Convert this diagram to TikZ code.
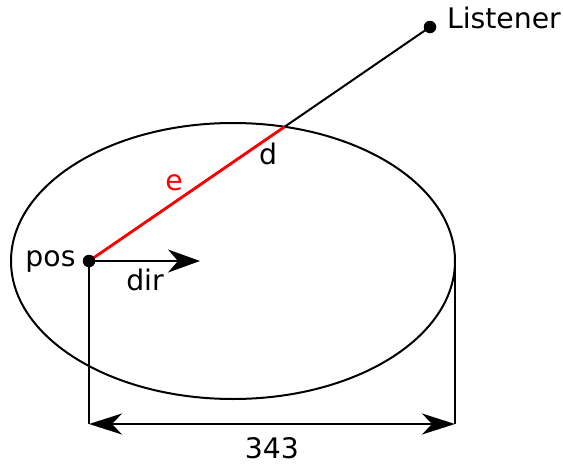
\documentclass[tikz,border=0pt]{standalone}
\usepackage{fontspec}
\setmainfont{DejaVu Sans}
\usetikzlibrary{arrows.meta,calc}
\begin{document}
\begin{tikzpicture}[x=1pt,y=-1pt,
  line width=2pt,
  lbl/.style={font=\fontsize{28.3}{32}\selectfont, inner sep=0pt},
  dot/.style={circle, fill=black, inner sep=0pt, minimum size=12.5pt},
  bigtip/.style={-{Stealth[length=32pt,width=23pt,inset=10pt]}},
  dimtip/.style={{Stealth[length=33pt,width=21pt,inset=10pt]}-{Stealth[length=33pt,width=21pt,inset=10pt]}}]
\path[use as bounding box] (0,0) rectangle (563,464);
\coordinate (c) at (233,261);
\coordinate (pos) at (89,261);
\coordinate (lis) at (430,27);
\coordinate (rgt) at (455,261);
\coordinate (dl) at (89,424);
\coordinate (dr) at (455,424);
\coordinate (dirend) at (200,261);
\coordinate (hit) at ($(pos)!0.5736!(lis)$);
\draw (c) ellipse [x radius=222, y radius=138];
\draw (pos) -- (lis);
\draw[red, line width=2.8pt, shift={(-0.6,-0.9)}] (pos) -- (hit);
\draw[bigtip] (pos) -- (dirend);
\draw (pos) -- (dl);
\draw (rgt) -- (dr);
\draw[dimtip] (dl) -- (dr);
\node[dot] (posdot) at (pos) {};
\node[dot] (lisdot) at (lis) {};
\node[lbl, anchor=west] (listener) at (446,18) {Listener};
\node[lbl] (poslbl) at (50.5,261.5) {pos};
\node[lbl] (dirlbl) at (145,280) {dir};
\node[lbl] (dlbl) at (268,154) {d};
\node[lbl, text=red] (elbl) at (174,183) {e};
\node[lbl] (dim) at (272,448) {343};
\end{tikzpicture}
\end{document}
